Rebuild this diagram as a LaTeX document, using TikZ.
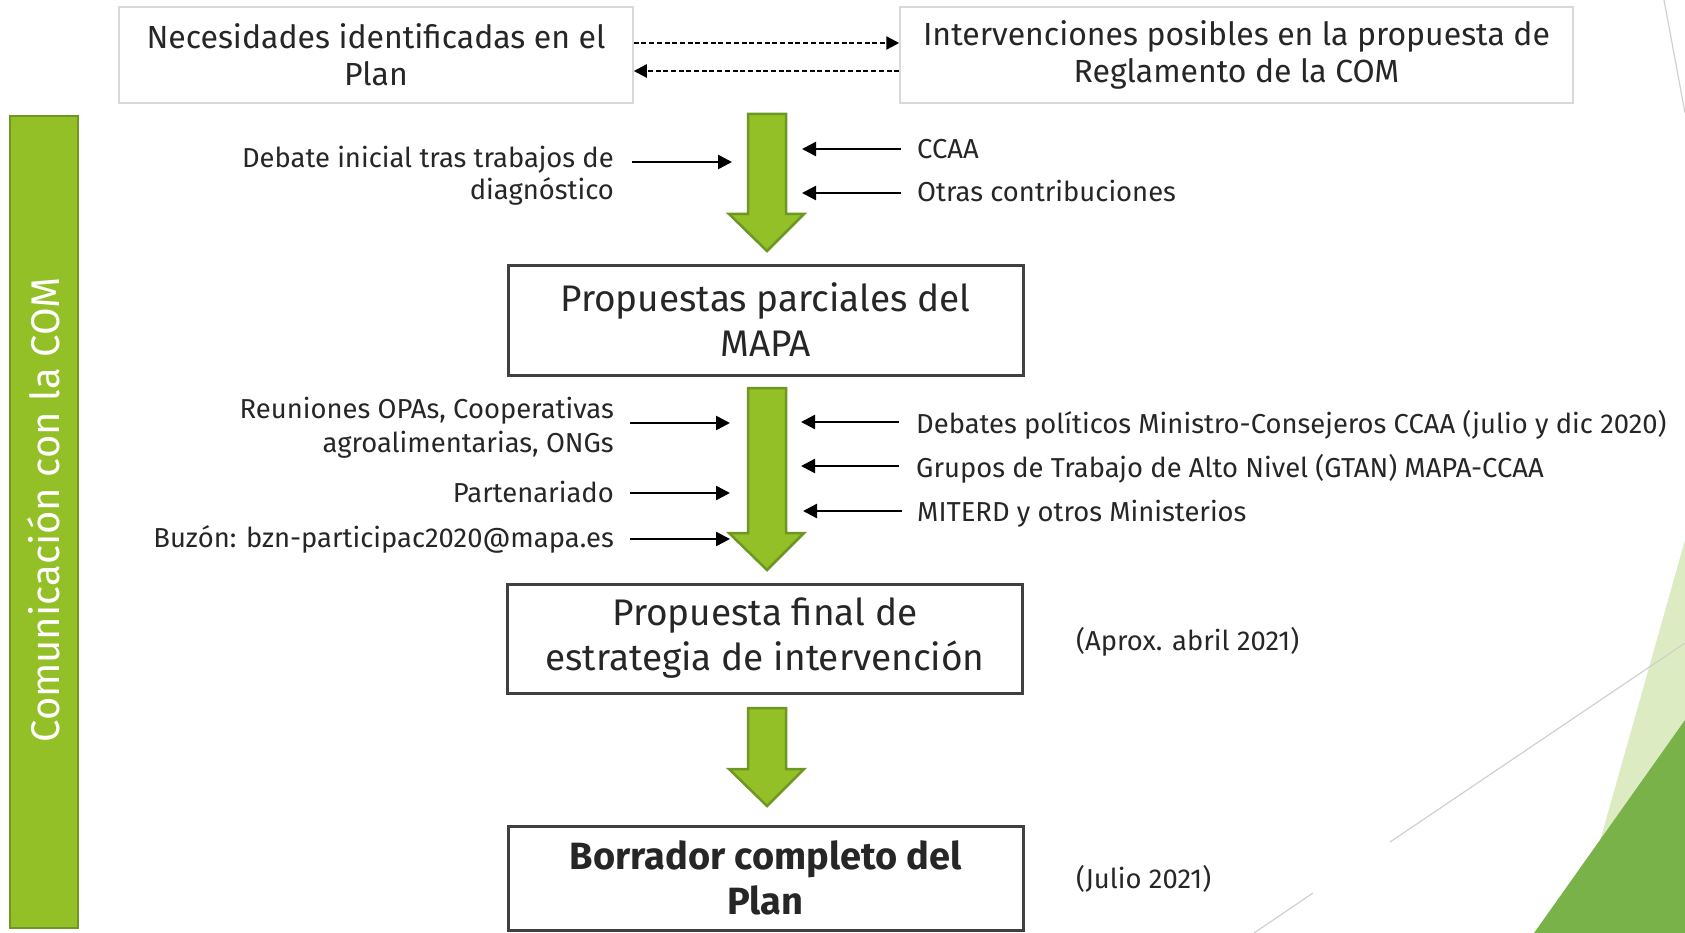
\documentclass[tikz,border=0pt]{standalone}
\usepackage{fontspec}
\setmainfont{Fira Sans}
\usetikzlibrary{arrows.meta}
\definecolor{txt}{HTML}{262626}
\definecolor{boxlight}{HTML}{D9D9D9}
\definecolor{boxdark}{HTML}{404040}
\definecolor{gfill}{HTML}{92C026}
\definecolor{gline}{HTML}{6E9622}
\definecolor{decolight}{HTML}{DDEBC3}
\definecolor{decodark}{HTML}{7AB24A}
\definecolor{decoline}{HTML}{D0D0D0}
\tikzset{
  lbl/.style={font=\fontsize{27.4}{33}\selectfont, text=txt, inner sep=0pt},
  topbox/.style={draw=boxlight, line width=1.5pt, fill=white, text=txt, align=center, inner sep=0pt,
    font=\fontsize{32}{37}\selectfont},
  midbox/.style={draw=boxdark, line width=3pt, fill=white, text=txt, align=center, inner sep=0pt,
    font=\fontsize{37}{45}\selectfont, minimum width=515pt},
  feed/.style={-{Triangle[length=14pt,width=14pt]}, line width=2.5pt, black},
  dasharr/.style={-{Triangle[length=13pt,width=13pt]}, line width=2.3pt, black, dash pattern=on 5pt off 2.7pt},
  garr/.style={fill=gfill, draw=gline, line width=2.5pt, line join=miter},
}
\newcommand\GreenArrow[3]{\draw[garr] (748,#1) -- (786,#1) -- (786,#2) -- (804,#2) -- (767,#3) -- (729,#2) -- (748,#2) -- cycle;}
\begin{document}
\begin{tikzpicture}[x=1pt,y=-1pt]
\useasboundingbox (0,0) rectangle (1685,933);
% decorations
\fill[decolight] (1685,540) -- (1574,933) -- (1685,933) -- cycle;
\fill[decodark] (1685,720) -- (1534,933) -- (1685,933) -- cycle;
\draw[decoline, line width=1.2pt] (1664,0) -- (1685,113);
\draw[decoline, line width=1.2pt] (1685,643) -- (1390,842);
\draw[decoline, line width=1.2pt] (1313,893) -- (1254,933);
% left bar
\node (bar) [fill=gfill, draw=gline, line width=2.5pt, minimum width=68pt, minimum height=812pt, inner sep=0pt] at (44,522) {};
\node (barlbl) [rotate=90, text=white, font=\fontsize{40}{42}\selectfont, inner sep=0pt] at (44,510) {Comunicación con la COM};
% top boxes
\node (nec) [topbox, minimum width=514pt, minimum height=96pt] at (376,55) {Necesidades identificadas en el\\Plan};
\node (int) [topbox, minimum width=673pt, minimum height=96pt] at (1236.5,55) {Intervenciones posibles en la propuesta de\\Reglamento de la COM};
\draw[dasharr] ([yshift=12pt]nec.east) -- ([yshift=12pt]int.west);
\draw[dasharr] ([yshift=-16pt]int.west) -- ([yshift=-16pt]nec.east);
% green arrows
\GreenArrow{114}{214}{251}
\GreenArrow{388}{533}{570}
\GreenArrow{708}{769}{806}
% mid boxes
\node (par) [midbox, minimum height=110pt] at (765.5,320) {Propuestas parciales del\\MAPA};
\node (fin) [midbox, minimum height=109pt] at (765,638.5) {Propuesta final de\\estrategia de intervención};
\node (bor) [midbox, minimum height=104pt, font=\fontsize{38}{45}\selectfont\bfseries] at (765.5,878) {Borrador completo del\\Plan};
% left labels
\node (deb) [lbl, anchor=base east, align=right, font=\fontsize{27.4}{32}\selectfont] at (614,200) {Debate inicial tras trabajos de\\diagnóstico};
\node (reu) [lbl, anchor=base east, align=right, font=\fontsize{27.4}{34}\selectfont] at (614,452) {Reuniones OPAs, Cooperativas\\agroalimentarias, ONGs};
\node (ptn) [lbl, anchor=base east] at (614,502) {Partenariado};
\node (buz) [lbl, anchor=base east] at (614,547) {Buzón: bzn-participac2020@mapa.es};
\coordinate (deb-t) at (732,162);
\coordinate (reu-t) at (730,423);
\coordinate (ptn-t) at (730,493);
\coordinate (buz-t) at (730,539);
\draw[feed] (632,162) coordinate (deb-s) -- (deb-t);
\draw[feed] (630,423) coordinate (reu-s) -- (reu-t);
\draw[feed] (630,493) coordinate (ptn-s) -- (ptn-t);
\draw[feed] (630,539) coordinate (buz-s) -- (buz-t);
% right labels
\node (cca) [lbl, anchor=base west] at (917,159) {CCAA};
\node (otr) [lbl, anchor=base west] at (917,202) {Otras contribuciones};
\node (dbp) [lbl, anchor=base west] at (916,433) {Debates políticos Ministro-Consejeros CCAA (julio y dic 2020)};
\node (gru) [lbl, anchor=base west] at (916,477) {Grupos de Trabajo de Alto Nivel (GTAN) MAPA-CCAA};
\node (mit) [lbl, anchor=base west] at (917,521) {MITERD y otros Ministerios};
\coordinate (cca-s) at (901,149);
\coordinate (otr-s) at (901,193);
\coordinate (dbp-s) at (899,422);
\coordinate (gru-s) at (899,466);
\coordinate (mit-s) at (902,511);
\draw[feed] (cca-s) -- (802,149);
\draw[feed] (otr-s) -- (802,193);
\draw[feed] (dbp-s) -- (801,422);
\draw[feed] (gru-s) -- (801,466);
\draw[feed] (mit-s) -- (803,511);
% dates
\node (apr) [lbl, anchor=base west] at (1076,650) {(Aprox. abril 2021)};
\node (jul) [lbl, anchor=base west] at (1076,888) {(Julio 2021)};
\end{tikzpicture}
\end{document}
